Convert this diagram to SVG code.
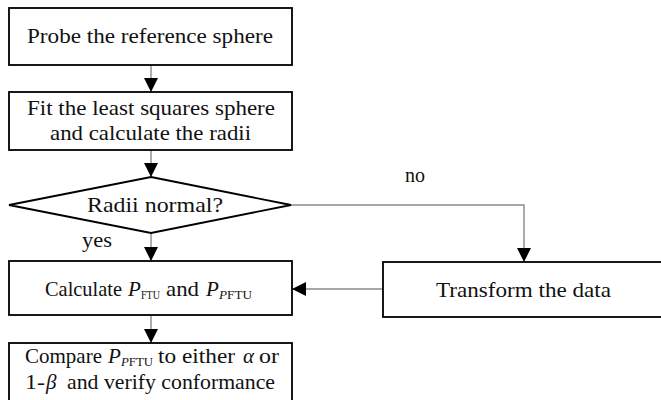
<svg xmlns="http://www.w3.org/2000/svg" width="661" height="400" viewBox="0 0 661 400">
<style>
.box{fill:#fff;stroke:#000;stroke-width:1.8}
.t{font-family:"Liberation Serif","Times New Roman",serif;font-size:21px;fill:#111}
.i{font-style:italic}
.s{font-size:13px}
.c{fill:none;stroke:#8a8a8a;stroke-width:1.4}
</style>
<defs>
<marker id="ah" markerUnits="userSpaceOnUse" markerWidth="14" markerHeight="14" refX="14" refY="7" orient="auto">
<path d="M0,0 L14,7 L0,14 z" fill="#000"/>
</marker>
</defs>
<rect width="661" height="400" fill="#fff"/>
<g id="connectors">
<line class="c" x1="151" y1="65" x2="151" y2="92" marker-end="url(#ah)"/>
<line class="c" x1="151" y1="150" x2="151" y2="177" marker-end="url(#ah)"/>
<line class="c" x1="151" y1="233" x2="151" y2="261" marker-end="url(#ah)"/>
<line class="c" x1="151" y1="315" x2="151" y2="343" marker-end="url(#ah)"/>
<polyline class="c" points="291,205 524,205 524,262" marker-end="url(#ah)"/>
<line class="c" x1="383" y1="289" x2="292" y2="289" marker-end="url(#ah)"/>
<text class="t" x="82" y="247" textLength="30" lengthAdjust="spacingAndGlyphs">yes</text>
<text class="t" x="405" y="182" textLength="20" lengthAdjust="spacingAndGlyphs">no</text>
</g>
<g id="n1">
<rect class="box" x="9" y="8" width="283" height="57"/>
<text class="t" x="27" y="43" textLength="246" lengthAdjust="spacingAndGlyphs">Probe the reference sphere</text>
</g>
<g id="n2">
<rect class="box" x="9" y="92" width="283" height="58"/>
<text class="t" x="27" y="115" textLength="248" lengthAdjust="spacingAndGlyphs">Fit the least squares sphere</text>
<text class="t" x="50" y="140" textLength="201" lengthAdjust="spacingAndGlyphs">and calculate the radii</text>
</g>
<g id="n3">
<polygon class="box" points="151,177 291,205 151,233 9,205"/>
<text class="t" x="87" y="212" textLength="136" lengthAdjust="spacingAndGlyphs">Radii normal?</text>
</g>
<g id="n4">
<rect class="box" x="9" y="261" width="283" height="54"/>
<text class="t" x="45" y="296" textLength="77" lengthAdjust="spacingAndGlyphs">Calculate</text>
<text class="t i" x="128" y="296">P</text>
<text class="t s" x="141" y="299" textLength="19" lengthAdjust="spacingAndGlyphs">FTU</text>
<text class="t" x="166" y="296" textLength="33" lengthAdjust="spacingAndGlyphs">and</text>
<text class="t i" x="206" y="296">P</text>
<text class="t s" x="219" y="299" textLength="33" lengthAdjust="spacingAndGlyphs"><tspan class="i">P</tspan>FTU</text>
</g>
<g id="n5">
<rect class="box" x="9" y="343" width="283" height="62"/>
<text class="t" x="25" y="363" textLength="77" lengthAdjust="spacingAndGlyphs">Compare</text>
<text class="t i" x="108" y="363">P</text>
<text class="t s" x="121" y="366" textLength="32" lengthAdjust="spacingAndGlyphs"><tspan class="i">P</tspan>FTU</text>
<text class="t" x="158" y="363" textLength="77" lengthAdjust="spacingAndGlyphs">to either</text>
<text class="t i" x="243" y="363">α</text>
<text class="t" x="259" y="363" textLength="20" lengthAdjust="spacingAndGlyphs">or</text>
<text class="t" x="25" y="389" textLength="20" lengthAdjust="spacingAndGlyphs">1-</text>
<text class="t i" x="46" y="389">β</text>
<text class="t" x="67" y="389" textLength="208" lengthAdjust="spacingAndGlyphs">and verify conformance</text>
</g>
<g id="n6">
<rect class="box" x="383" y="262" width="300" height="55"/>
<text class="t" x="436" y="297" textLength="175" lengthAdjust="spacingAndGlyphs">Transform the data</text>
</g>
</svg>
